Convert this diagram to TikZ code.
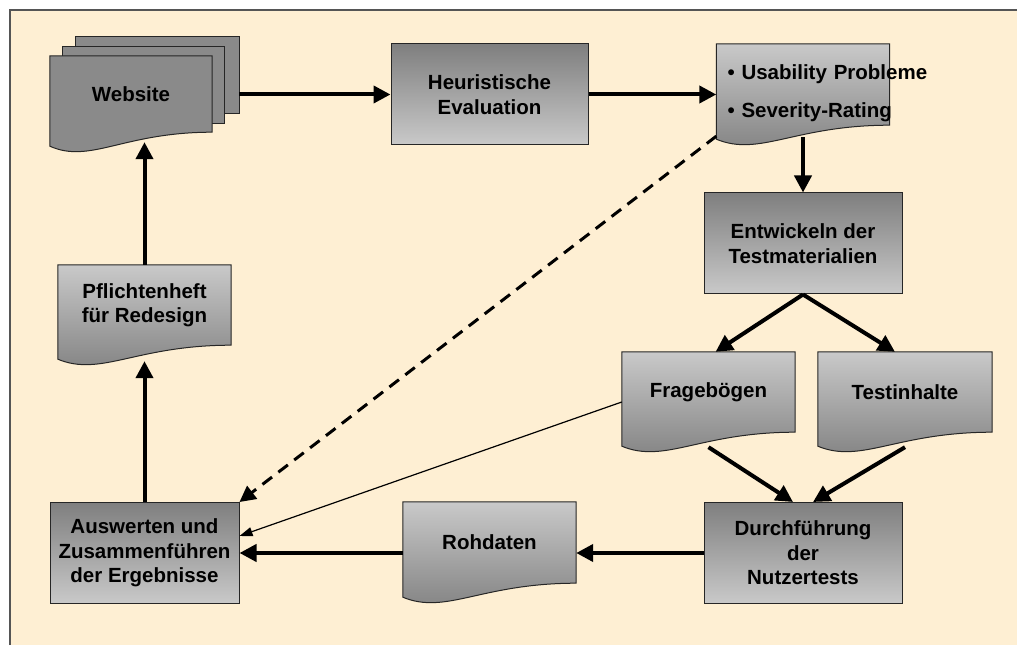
\documentclass[tikz,border=0pt]{standalone}
\usepackage{fontspec}
\setmainfont{Liberation Sans}
\usepackage{tikz}
\usetikzlibrary{positioning,arrows.meta,calc,backgrounds}
\definecolor{paper}{HTML}{FEEFD3}
\definecolor{framegrey}{HTML}{555555}
\definecolor{greydark}{HTML}{7F7F7F}
\definecolor{greylight}{HTML}{C9C9C9}
\definecolor{sheetgrey}{HTML}{8A8A8A}
\tikzset{
    label font/.style = {
        font=\fontsize{20.5}{24.5}\selectfont\bfseries
    },
    block/.style = {
        draw=black!85,
        shape=rectangle,
        minimum height=101,
        minimum width=198,
        line width=1pt,
        top color=greydark,
        bottom color=greylight,
        align=center,
        inner sep=2pt,
        label font
    },
    docu/.style = {
        shape=rectangle,
        minimum height=80,
        minimum width=173,
        align=center,
        inner sep=2pt,
        label font
    },
    sheetbox/.style = {
        shape=rectangle,
        minimum height=76
    },
    docfill/.style = {
        draw=black!85,
        line width=1pt,
        top color=greylight,
        bottom color=greydark
    },
    sheetfill/.style = {
        draw=black!85,
        line width=1pt,
        fill=sheetgrey
    },
    flow/.style = {
        line width=4pt,
        -{Triangle[length=17pt,width=17pt]}
    },
    dashflow/.style = {
        line width=3pt,
        dash pattern=on 12pt off 8pt,
        -{Triangle[length=16pt,width=16pt]}
    },
    thinflow/.style = {
        line width=1.2pt,
        -{Triangle[length=13pt,width=9pt]}
    },
}
% outline of a document sheet with wavy bottom
\newcommand\docshape[2][docfill]{%
    \path[#1] (#2.north west) -- (#2.north east) -- (#2.south east)
        .. controls ($(#2.south east)!0.55!(#2.south west)$)
        and ($(#2.south west)!0.25!(#2.south east)+(0,-32)$)
        .. ($(#2.south west)+(0,-14)$) -- cycle;}

\begin{document}
\begin{tikzpicture}[x=1pt,y=1pt]
                \useasboundingbox (0,0) rectangle (1017,645);

                \node[docu, minimum width=162, minimum height=76] (website) at (131,551) {Website};
                \node[sheetbox, minimum width=161] (web2) at (143.5,560) {};
                \node[sheetbox, minimum width=163] (web3) at (157.5,570) {};
                \node[block, minimum width=197] (heur) at (489.5,550.5) {Heuristische\\Evaluation};
                \node[docu, align=left, text width=151pt, inner xsep=11pt, minimum height=81]
                (usab) at (803,560.5)
                {\rule{0pt}{32pt}\textbullet~\mbox{Usability Probleme}\\[13.5pt]\textbullet~\mbox{Severity-Rating}};
                \node[block] (entw) at (803,401.5) {Entwickeln der\\Testmaterialien};
                \node[docu] (frage) at (708.5,253) {Fragebögen};
                \node[docu, minimum width=174] (testin) at (905,253) {Testinhalte};
                \node[block] (durch) at (803,92) {Durchführung\\der\\Nutzertests};
                \node[docu, minimum height=81] (roh) at (489.5,102.5) {Rohdaten};
                \node[block, minimum width=189] (ausw) at (144.5,92) {Auswerten und\\Zusammenführen\\der Ergebnisse};
                \node[docu] (pflicht) at (144.5,340) {Pflichtenheft\\für Redesign};

                \begin{scope}[on background layer]
                    \fill[paper] (10,0) rectangle (1017,635);
                    \draw[framegrey, line width=1.5pt] (10,0) -- (10,635) -- (1017,635);
                    \foreach \s in {web3,web2}
                        \path[sheetfill] (\s.north west) rectangle (\s.south east);
                    \docshape[sheetfill]{website}
                    \foreach \d in {usab,frage,testin,roh,pflicht}{
                        \docshape{\d}
                    }
                \end{scope}

                \path[draw, flow] (heur.west -| web3.east) -- (heur.west);
                \path[draw, flow] (heur.east) -- (heur.east -| usab.west);
                \path[draw, flow] ([yshift=-12]usab.south) -- (entw.north);
                \path[draw, flow] (entw.south) -- (frage.80);
                \path[draw, flow] (entw.south) -- (testin.104);
                \path[draw, flow] ([yshift=-15]frage.south) -- ([xshift=-10]durch.north);
                \path[draw, flow] ([yshift=-15]testin.south) -- ([xshift=10]durch.north);
                \path[draw, flow] (durch.west) -- (durch.west -| roh.east);
                \path[draw, flow] (roh.west |- ausw.east) -- (ausw.east);
                \path[draw, flow] (ausw.north) -- ([yshift=-16]pflicht.south);
                \path[draw, flow, shorten >=10pt] (pflicht.north) -- (pflicht.north |- website.south);
                \path[draw, dashflow] ([yshift=-11]usab.south west) -- (ausw.north east);
                \path[draw, thinflow] ([yshift=-10]frage.west) -- ([yshift=17]ausw.east);
\end{tikzpicture}
\end{document}
